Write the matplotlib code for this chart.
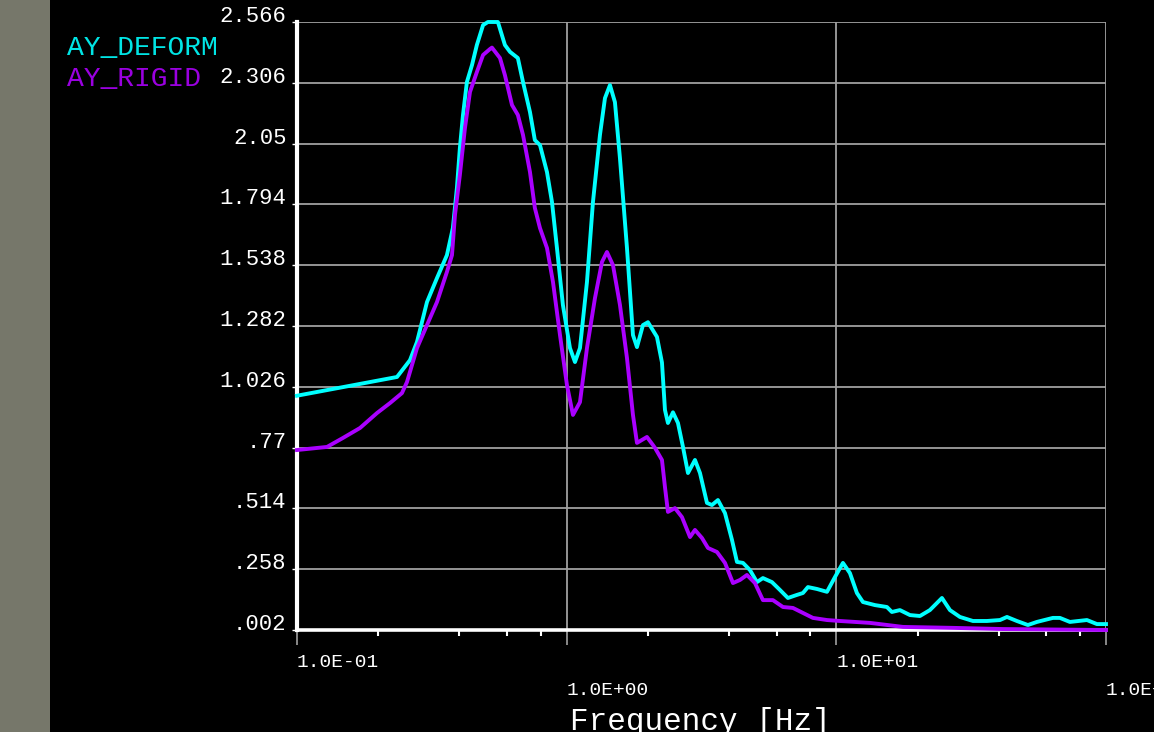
import numpy as np
import matplotlib
matplotlib.use("Agg")
import matplotlib.pyplot as plt
from matplotlib.ticker import LogLocator, NullFormatter, FixedLocator
import matplotlib.transforms as mtrans
from matplotlib.patches import Rectangle

# ---------------- data ----------------
deform_freq = [0.1, 0.2349, 0.2624, 0.2786, 0.3034, 0.3304, 0.3597, 0.3784, 0.3917, 0.4018,
               0.4126, 0.4266, 0.4457, 0.4645, 0.4898, 0.5105, 0.5559, 0.5902, 0.6166, 0.6592,
               0.6887, 0.7311, 0.7621, 0.7962, 0.8453, 0.8821, 0.9204, 0.9683, 1.0285, 1.0735,
               1.1203, 1.1893, 1.2517, 1.3288, 1.3868, 1.4472, 1.510, 1.576, 1.6735, 1.7613,
               1.8226, 1.9185, 2.002, 2.1619, 2.2563, 2.3147, 2.3746, 2.4783, 2.5866, 2.6995,
               2.8174, 2.9907, 3.1214, 3.3131, 3.4575, 3.639, 3.864, 4.102, 4.281, 4.506,
               4.782, 5.077, 5.343, 5.770, 6.178, 6.614, 7.143, 7.519, 7.847, 8.475,
               9.232, 9.881, 10.58, 11.23, 11.92, 12.55, 13.91, 15.40, 16.07, 17.21,
               18.75, 20.42, 22.23, 24.64, 26.38, 28.73, 32.10, 36.17, 40.44, 42.93,
               46.72, 51.33, 55.42, 63.55, 67.45, 73.48, 84.98, 92.54, 100.0]
deform_amp = [0.99, 1.069, 1.14, 1.217, 1.385, 1.486, 1.583, 1.697, 1.866, 2.035,
              2.174, 2.313, 2.385, 2.469, 2.553, 2.566, 2.566, 2.469, 2.44, 2.414,
              2.313, 2.186, 2.068, 2.047, 1.933, 1.807, 1.613, 1.373, 1.191, 1.132,
              1.191, 1.47, 1.807, 2.09, 2.245, 2.30, 2.228, 1.992, 1.613, 1.246,
              1.195, 1.288, 1.30, 1.238, 1.13, 0.93, 0.875, 0.92, 0.875, 0.774,
              0.664, 0.719, 0.664, 0.538, 0.529, 0.55, 0.495, 0.382, 0.289, 0.285,
              0.255, 0.204, 0.221, 0.204, 0.171, 0.137, 0.15, 0.158, 0.183, 0.175,
              0.163, 0.225, 0.285, 0.242, 0.158, 0.12, 0.107, 0.099, 0.078, 0.086,
              0.065, 0.061, 0.086, 0.137, 0.086, 0.057, 0.04, 0.04, 0.044, 0.057,
              0.04, 0.023, 0.036, 0.053, 0.053, 0.036, 0.044, 0.027, 0.027]

rigid_freq = [0.1, 0.1292, 0.1481, 0.1713, 0.198, 0.2212, 0.245, 0.2558, 0.2786, 0.3034,
              0.3304, 0.3597, 0.3756, 0.3853, 0.4018, 0.4196, 0.438, 0.4645, 0.4898, 0.5195,
              0.5284, 0.5659, 0.5902, 0.627, 0.6592, 0.6887, 0.7311, 0.7621, 0.7962, 0.8453,
              0.8896, 0.9445, 1.0025, 1.0553, 1.1203, 1.1893, 1.2735, 1.3518, 1.4104, 1.4848,
              1.576, 1.6735, 1.7613, 1.8226, 1.9848, 2.0893, 2.1256, 2.2563, 2.3147, 2.3746,
              2.521, 2.6766, 2.8666, 2.9907, 3.175, 3.3415, 3.6085, 3.864, 4.137, 4.392,
              4.661, 4.991, 5.343, 5.82, 6.339, 6.904, 7.519, 8.189, 9.232, 10.31,
              13.32, 17.66, 27.06, 41.48, 100.0]
rigid_amp = [0.761, 0.774, 0.812, 0.854, 0.917, 0.959, 1.001, 1.048, 1.191, 1.288,
             1.385, 1.512, 1.583, 1.752, 1.921, 2.119, 2.271, 2.355, 2.427, 2.452,
             2.458, 2.414, 2.342, 2.216, 2.174, 2.09, 1.933, 1.782, 1.697, 1.613,
             1.47, 1.246, 1.035, 0.909, 0.963, 1.191, 1.402, 1.554, 1.596, 1.541,
             1.373, 1.149, 0.909, 0.791, 0.816, 0.782, 0.77, 0.719, 0.605, 0.5,
             0.516, 0.478, 0.394, 0.424, 0.39, 0.348, 0.331, 0.285, 0.2, 0.213,
             0.234, 0.2, 0.128, 0.128, 0.099, 0.095, 0.074, 0.053, 0.044, 0.04,
             0.032, 0.015, 0.011, 0.006, 0.002]

series_names = ["AY_DEFORM", "AY_RIGID"]
ytick_labels = [".002", ".258", ".514", ".77", "1.026", "1.282", "1.538",
                "1.794", "2.05", "2.306", "2.566"]
xtick_values = [0.1, 1.0, 10.0, 100.0]
xtick_labels = ["1.0E-01", "1.0E+00", "1.0E+01", "1.0E+02"]
xlabel = "Frequency [Hz]"

assert len(deform_freq) == len(deform_amp)
assert len(rigid_freq) == len(rigid_amp)

# ---------------- styling ----------------
CYAN = "#00ffff"
PURPLE = "#aa00ff"
GRID = "#a0a0a0"
FONT = "Liberation Mono"

W, H = 1154, 732
fig = plt.figure(figsize=(W / 100, H / 100), dpi=100, facecolor="black")
fig.patches.append(Rectangle((0, 0), 50 / W, 1, transform=fig.transFigure,
                             facecolor="#76776a", edgecolor="none", zorder=0))

left, right, top, bottom = 297, 1106, 22, 630
ax = fig.add_axes([left / W, 1 - bottom / H, (right - left) / W, (bottom - top) / H])
ax.set_facecolor("black")

ax.plot(deform_freq, deform_amp, color=CYAN, lw=2.8, zorder=4, clip_on=False,
        solid_joinstyle="round")
ax.plot(rigid_freq, rigid_amp, color=PURPLE, lw=2.8, zorder=5, clip_on=False,
        solid_joinstyle="round")

ax.set_xscale("log")
ax.set_xlim(0.1, 100)
ymin, ymax = 0.002, 2.566
ax.set_ylim(ymin, ymax)

# y ticks
yt = np.linspace(ymin, ymax, len(ytick_labels))
ax.set_yticks(yt)
ax.set_yticklabels(ytick_labels, fontsize=16, color="white", family=FONT)
for lab in ax.get_yticklabels():
    lab.set_verticalalignment("baseline")
ax.tick_params(axis="y", direction="out", length=3.6, width=1.0, color="white", pad=4)

# x ticks
ax.xaxis.set_major_locator(FixedLocator(xtick_values))
ax.xaxis.set_minor_locator(LogLocator(base=10, subs=[2, 4, 6, 8], numticks=20))
ax.xaxis.set_major_formatter(NullFormatter())
ax.xaxis.set_minor_formatter(NullFormatter())
ax.tick_params(axis="x", which="major", direction="out", length=11, width=1.2, color=GRID)
ax.tick_params(axis="x", which="minor", direction="out", length=4.3, width=1.5, color="white")

# grid
ax.grid(True, which="major", color=GRID, lw=1.3)
ax.set_axisbelow(True)

for s in ["top", "right"]:
    ax.spines[s].set_visible(False)
ax.spines["left"].set_color("white")
ax.spines["left"].set_linewidth(3.0)
ax.spines["bottom"].set_color("white")
ax.spines["bottom"].set_linewidth(2.6)
ax.spines["left"].set_zorder(3)
ax.spines["bottom"].set_zorder(3)

# staggered x tick labels, left aligned at the decade
trans = mtrans.blended_transform_factory(ax.transData, fig.transFigure)
for i, (xv, lab) in enumerate(zip(xtick_values, xtick_labels)):
    ybase = 667 if i % 2 == 0 else 695
    ax.text(xv, 1 - ybase / H, lab, transform=trans, ha="left", va="baseline",
            fontsize=14, color="white", family=FONT, clip_on=False)

fig.text(570 / W, 1 - 730 / H, xlabel, ha="left", va="baseline",
         fontsize=22.3, color="white", family=FONT)

# legend text
fig.text(67 / W, 1 - 55 / H, series_names[0], ha="left", va="baseline",
         fontsize=20.2, color="#00e5e5", family=FONT)
fig.text(67 / W, 1 - 86 / H, series_names[1], ha="left", va="baseline",
         fontsize=20.2, color="#9a00e0", family=FONT)

fig.savefig("out.png", dpi=100, facecolor="black")
